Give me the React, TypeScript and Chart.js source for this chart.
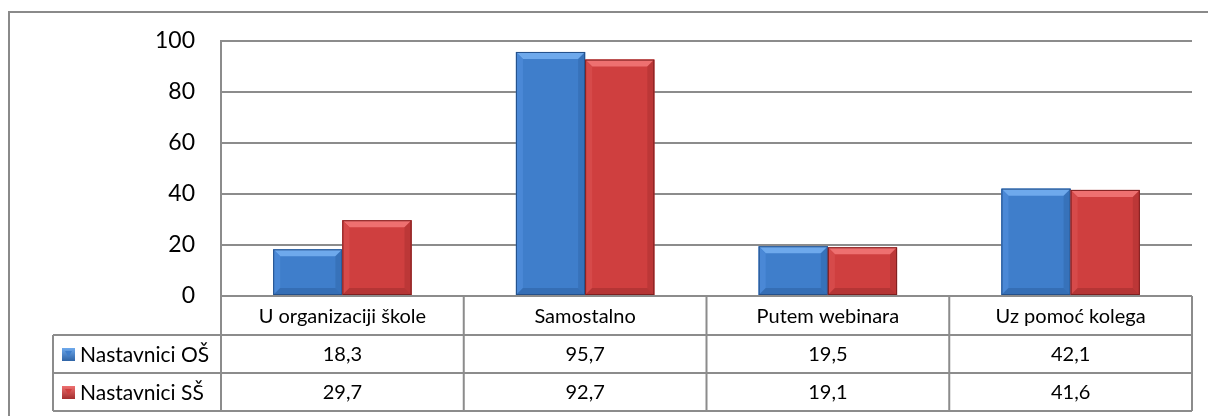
import React, { useEffect, useRef } from "react";
import { Chart, registerables } from "chart.js";

Chart.register(...registerables);

const categories = ["U organizaciji škole", "Samostalno", "Putem webinara", "Uz pomoć kolega"];
const seriesNames = ["Nastavnici OŠ", "Nastavnici SŠ"];
const valuesOS = [18.3, 95.7, 19.5, 42.1];
const valuesSS = [29.7, 92.7, 19.1, 41.6];
const yMin = 0;
const yMax = 100;
const yStep = 20;

const FONT = "Lato, 'Open Sans', sans-serif";
const TEXT = "#000000";
const LINE = "#8c8c8c";

const palette = [
  { face: "#3f7ecb", light: "#6ea9ec", side: "#4a88d6", dark: "#2f64a6", edge: "#24508a" },
  { face: "#cf3f3f", light: "#ee7070", side: "#d64a4a", dark: "#a32e2e", edge: "#7e1f1f" },
];

const fmt = (v: number) => v.toFixed(1).replace(".", ",");

const bevelPlugin = {
  id: "bevel",
  afterDatasetsDraw(chart: any) {
    const ctx = chart.ctx;
    chart.data.datasets.forEach((_ds: any, di: number) => {
      const meta = chart.getDatasetMeta(di);
      const c = palette[di];
      meta.data.forEach((el: any) => {
        const p = el.getProps(["x", "y", "base", "width"], true);
        const l = p.x - p.width / 2;
        const r = p.x + p.width / 2;
        const t = p.y;
        const b = p.base;
        const s = Math.min(7, (b - t) / 3);
        ctx.save();
        ctx.fillStyle = c.face;
        ctx.fillRect(l, t, r - l, b - t);
        // top
        ctx.fillStyle = c.light;
        ctx.beginPath();
        ctx.moveTo(l, t); ctx.lineTo(r, t); ctx.lineTo(r - s, t + s); ctx.lineTo(l + s, t + s); ctx.closePath();
        ctx.fill();
        // left
        ctx.fillStyle = c.side;
        ctx.beginPath();
        ctx.moveTo(l, t); ctx.lineTo(l + s, t + s); ctx.lineTo(l + s, b - s); ctx.lineTo(l, b); ctx.closePath();
        ctx.fill();
        // right
        ctx.fillStyle = c.dark;
        ctx.globalAlpha = 0.45;
        ctx.beginPath();
        ctx.moveTo(r, t); ctx.lineTo(r - s, t + s); ctx.lineTo(r - s, b - s); ctx.lineTo(r, b); ctx.closePath();
        ctx.fill();
        // bottom
        ctx.globalAlpha = 0.6;
        ctx.beginPath();
        ctx.moveTo(l, b); ctx.lineTo(r, b); ctx.lineTo(r - s, b - s); ctx.lineTo(l + s, b - s); ctx.closePath();
        ctx.fill();
        ctx.globalAlpha = 1;
        ctx.strokeStyle = c.edge;
        ctx.lineWidth = 1;
        ctx.strokeRect(l + 0.5, t + 0.5, r - l - 1, b - t - 1);
        ctx.restore();
      });
    });
  },
};

const tablePlugin = {
  id: "dataTable",
  afterDraw(chart: any) {
    const ctx = chart.ctx;
    const xs = chart.scales.x;
    const area = chart.chartArea;
    const legendLeft = 53;
    const rowH = 38;
    const top = area.bottom;
    const rows = [top, top + 39, top + 39 + rowH, top + 39 + rowH * 2];
    const n = categories.length;
    const bandW = (area.right - area.left) / n;
    const edges: number[] = [];
    for (let i = 0; i < n; i++) {
      edges.push(xs.getPixelForValue(i) - bandW / 2);
    }
    edges.push(xs.getPixelForValue(n - 1) + bandW / 2);

    ctx.save();
    // outer border
    ctx.strokeStyle = "#8a8a8a";
    ctx.lineWidth = 2;
    ctx.beginPath();
    ctx.moveTo(9, 420); ctx.lineTo(9, 12); ctx.lineTo(1210, 12);
    ctx.stroke();

    ctx.strokeStyle = LINE;
    ctx.lineWidth = 2;
    ctx.beginPath();
    ctx.moveTo(edges[0], rows[0]); ctx.lineTo(edges[n], rows[0]);
    for (let k = 1; k < rows.length; k++) {
      ctx.moveTo(legendLeft, rows[k]); ctx.lineTo(edges[n], rows[k]);
    }
    ctx.moveTo(legendLeft, rows[1]); ctx.lineTo(legendLeft, rows[3]);
    for (let i = 0; i <= n; i++) {
      ctx.moveTo(edges[i], rows[0]); ctx.lineTo(edges[i], rows[3]);
    }
    ctx.stroke();

    ctx.fillStyle = TEXT;
    ctx.font = `20px ${FONT}`;
    ctx.textBaseline = "middle";
    ctx.textAlign = "center";
    categories.forEach((c, i) => {
      ctx.fillText(c, xs.getPixelForValue(i), (rows[0] + rows[1]) / 2 + 1);
    });
    const series = [valuesOS, valuesSS];
    series.forEach((vals, si) => {
      const cy = (rows[si + 1] + rows[si + 2]) / 2 + 1;
      vals.forEach((v, i) => {
        ctx.textAlign = "center";
        ctx.fillText(fmt(v), xs.getPixelForValue(i), cy);
      });
      const c = palette[si];
      const mx = 62, my = cy - 7, ms = 13;
      const g = ctx.createLinearGradient(0, my, 0, my + ms);
      g.addColorStop(0, c.light);
      g.addColorStop(1, c.dark);
      ctx.fillStyle = g;
      ctx.fillRect(mx, my, ms, ms);
      ctx.fillStyle = c.face;
      ctx.beginPath();
      ctx.moveTo(mx + 3, my + 3); ctx.lineTo(mx + ms - 3, my + 3); ctx.lineTo(mx + ms / 2, my + ms - 4); ctx.closePath();
      ctx.fill();
      ctx.fillStyle = TEXT;
      ctx.textAlign = "left";
      ctx.font = `21px ${FONT}`;
      ctx.fillText(seriesNames[si], 80, cy);
      ctx.font = `20px ${FONT}`;
    });
    ctx.restore();
  },
};

export default function App() {
  const ref = useRef<HTMLCanvasElement | null>(null);
  useEffect(() => {
    if (!ref.current) return;
    const chart = new Chart(ref.current, {
      type: "bar",
      data: {
        labels: categories,
        datasets: [
          { label: seriesNames[0], data: valuesOS, backgroundColor: palette[0].face, barPercentage: 1, categoryPercentage: 0.57 },
          { label: seriesNames[1], data: valuesSS, backgroundColor: palette[1].face, barPercentage: 1, categoryPercentage: 0.57 },
        ],
      },
      options: {
        responsive: false,
        animation: false,
        layout: { padding: { left: 0, top: 41, right: 16, bottom: 120 } },
        plugins: { legend: { display: false }, tooltip: { enabled: false } },
        scales: {
          x: { display: false, grid: { display: false } },
          y: {
            min: yMin,
            max: yMax,
            afterFit: (s: any) => { s.width = 221; },
            ticks: { stepSize: yStep, padding: 26, color: TEXT, font: { family: FONT, size: 23 } },
            grid: { color: LINE, lineWidth: 2, drawTicks: false },
            border: { color: LINE, width: 2 },
          },
        },
      },
      plugins: [bevelPlugin, tablePlugin],
    });
    return () => chart.destroy();
  }, []);
  return (
    <div style={{ position: "fixed", left: 0, top: 0, width: 1208, height: 416, background: "#fff" }}>
      <canvas ref={ref} width={1208} height={416} />
    </div>
  );
}
